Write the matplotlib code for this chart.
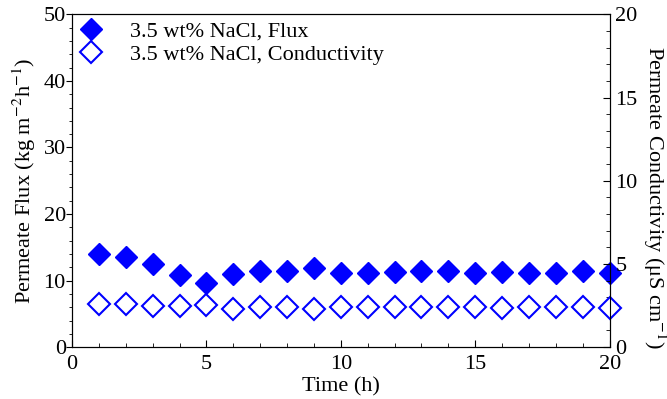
"""Permeate flux and conductivity over time, twin y axes."""

import matplotlib

matplotlib.use("Agg")
import matplotlib.pyplot as plt  # noqa: E402
from matplotlib.ticker import MultipleLocator  # noqa: E402

plt.rcParams["font.family"] = ["Liberation Serif", "DejaVu Serif"]
plt.rcParams["mathtext.fontset"] = "stix"

time_h = list(range(1, 21))
flux = [14.0, 13.5, 12.5, 10.8, 9.6, 11.0, 11.4, 11.5, 11.9, 11.2,
        11.2, 11.3, 11.4, 11.4, 11.2, 11.3, 11.2, 11.2, 11.5, 11.2]
conductivity = [2.57, 2.59, 2.45, 2.47, 2.51, 2.27, 2.41, 2.39, 2.27, 2.41,
                2.39, 2.41, 2.39, 2.41, 2.41, 2.37, 2.39, 2.39, 2.39, 2.35]

BLUE = "#0000ff"
FS = 16

fig = plt.figure(figsize=(6.67, 3.99), dpi=100)
ax = fig.add_axes([0.108, 0.130, 0.806, 0.834])
ax2 = ax.twinx()

h1, = ax.plot(time_h, flux, ls="none", marker="D", ms=11.5, color=BLUE,
              mec=BLUE, clip_on=False, label="3.5 wt% NaCl, Flux")
h2, = ax2.plot(time_h, conductivity, ls="none", marker="D", ms=11.5,
               mfc="white", mec=BLUE, mew=1.5, clip_on=False,
               label="3.5 wt% NaCl, Conductivity")

ax.set_xlim(0, 20)
ax.set_ylim(0, 50)
ax2.set_ylim(0, 20)

ax.xaxis.set_major_locator(MultipleLocator(5))
ax.xaxis.set_minor_locator(MultipleLocator(1))
ax.yaxis.set_major_locator(MultipleLocator(10))
ax.yaxis.set_minor_locator(MultipleLocator(2))
ax2.yaxis.set_major_locator(MultipleLocator(5))
ax2.yaxis.set_minor_locator(MultipleLocator(1))

ax.tick_params(axis="x", which="both", direction="in", labelsize=FS, pad=5.5)
ax.tick_params(axis="x", which="major", length=5)
ax.tick_params(axis="x", which="minor", length=3)
ax.tick_params(axis="y", which="both", direction="out", labelsize=FS, pad=0.5)
ax.tick_params(axis="y", which="major", length=4)
ax.tick_params(axis="y", which="minor", length=2.5)
ax2.tick_params(axis="y", which="both", direction="in", labelsize=FS, pad=4)
ax2.tick_params(axis="y", which="major", length=5)
ax2.tick_params(axis="y", which="minor", length=3)

ax.set_xlabel("Time (h)", fontsize=FS)
ax.xaxis.set_label_coords(0.5, -0.118)
ax.xaxis.label.set_va("center")
ax.set_ylabel("Permeate Flux (kg m$^{-2}$h$^{-1}$)", fontsize=FS, labelpad=4)
ax2.set_ylabel("Permeate Conductivity (μS cm$^{-1}$)", fontsize=FS,
               rotation=270)
ax2.yaxis.set_label_coords(1.084, 0.45)
ax2.yaxis.label.set_va("center")

ax.legend(handles=[h1, h2], loc="upper left", frameon=False, fontsize=FS,
          handlelength=1.1, handletextpad=1.2, borderaxespad=0.0,
          labelspacing=0.12, borderpad=0.3)

fig.savefig("out.png", dpi=100)
